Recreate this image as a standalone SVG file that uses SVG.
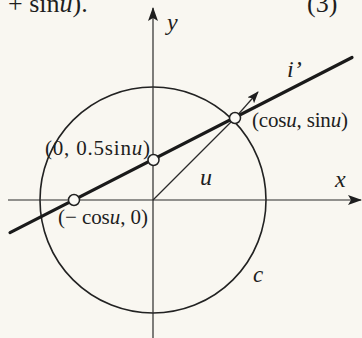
<svg xmlns="http://www.w3.org/2000/svg" width="362" height="338" viewBox="0 0 362 338">
<defs>
<style>
.bg{fill:#f9f7f1}
.thin{stroke:#2a2a2a;stroke-width:1.2;fill:none}
.circ{stroke:#222;stroke-width:1.6;fill:none}
.thick{stroke:#1a1a1a;stroke-width:3.2;fill:none;stroke-linecap:round}
.pt{fill:#fbfaf6;stroke:#222;stroke-width:1.5}
text{font-family:"Liberation Serif","Times New Roman",serif;fill:#1e1e1e}
.lbl{font-size:21px}
.it{font-style:italic}
</style>
<marker id="ah" viewBox="0 0 14 10" refX="13" refY="5" markerWidth="14" markerHeight="10" markerUnits="userSpaceOnUse" orient="auto">
<path d="M0,0 L14,5 L0,10 L3,5 Z" fill="#1e1e1e"/>
</marker>
<marker id="ahs" viewBox="0 0 12 9" refX="11" refY="4.5" markerWidth="12" markerHeight="9" markerUnits="userSpaceOnUse" orient="auto">
<path d="M0,0 L12,4.5 L0,9 L2.5,4.5 Z" fill="#1e1e1e"/>
</marker>
</defs>
<rect class="bg" x="0" y="0" width="362" height="338"/>
<text x="8" y="12" style="font-size:26px">+ sin<tspan class="it">u</tspan>).</text>
<text x="307" y="12" style="font-size:26px">(3)</text>
<g id="circle-c">
<circle class="circ" cx="153" cy="200" r="113"/>
<text class="it" x="253" y="282" style="font-size:23px">c</text>
</g>
<g id="connectors">
<line id="x-axis" class="thin" x1="8" y1="200" x2="361" y2="200" marker-end="url(#ah)"/>
<line id="y-axis" class="thin" x1="153" y1="338" x2="153" y2="8" marker-end="url(#ah)"/>
<line id="radius" class="thin" x1="153" y1="200" x2="235" y2="118"/>
<line id="normal" class="thin" x1="235" y1="118" x2="258" y2="92" marker-end="url(#ahs)"/>
<line id="line-i" class="thick" x1="10" y1="232.6" x2="352" y2="57.5"/>
</g>
<g id="axis-labels">
<text class="it" x="167" y="30" style="font-size:24px">y</text>
<text class="it" x="335" y="187" style="font-size:24px">x</text>
<text class="it" x="200" y="185" style="font-size:24px">u</text>
<text class="it" x="287" y="77" style="font-size:24px">i’</text>
</g>
<g id="node-p1">
<circle class="pt" cx="235" cy="118" r="5.5"/>
<text class="lbl" x="252" y="127" textLength="96" lengthAdjust="spacing">(cos<tspan class="it">u</tspan>, sin<tspan class="it">u</tspan>)</text>
</g>
<g id="node-p2">
<circle class="pt" cx="153.5" cy="160" r="5.5"/>
<text class="lbl" x="45" y="155" textLength="105" lengthAdjust="spacing">(0, 0.5sin<tspan class="it">u</tspan>)</text>
</g>
<g id="node-p3">
<circle class="pt" cx="74" cy="200" r="5.5"/>
<text class="lbl" x="58" y="224" textLength="90" lengthAdjust="spacing">(− cos<tspan class="it">u</tspan>, 0)</text>
</g>
</svg>
